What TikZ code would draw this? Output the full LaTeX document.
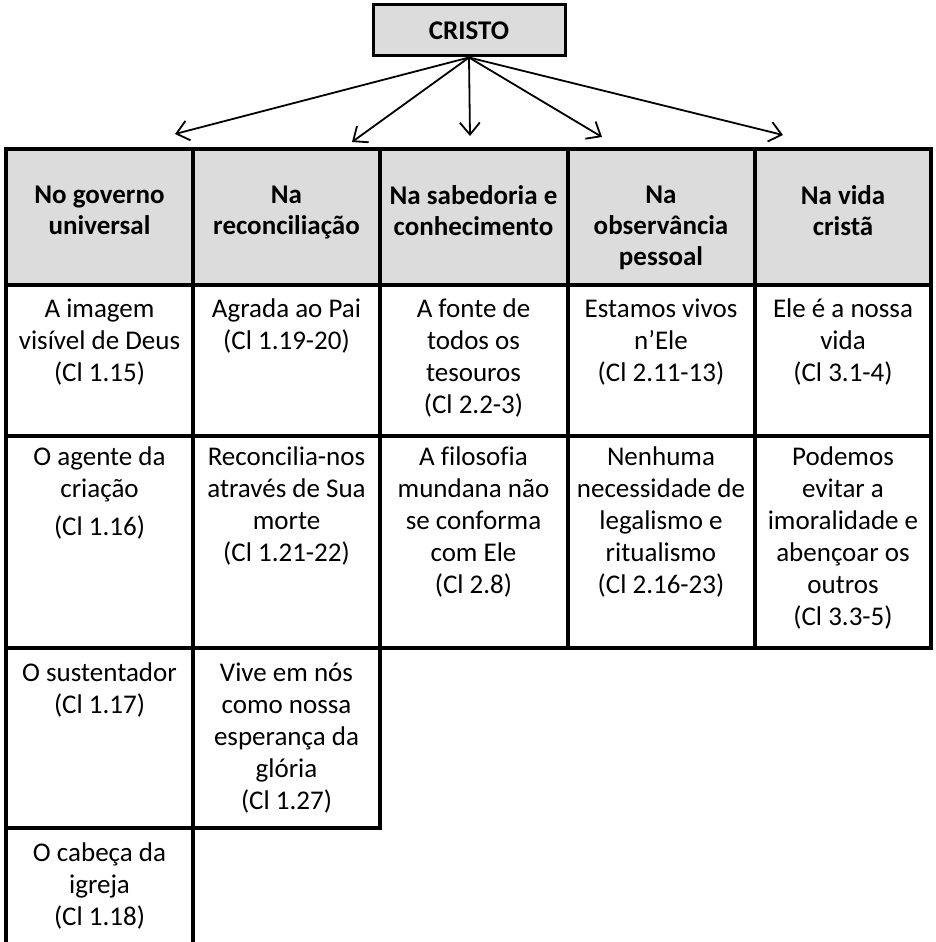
\documentclass[tikz,border=0pt]{standalone}
\usepackage{fontspec}
\setmainfont{Carlito}[Ligatures=CommonOff]
\usetikzlibrary{arrows.meta}
\definecolor{hdrgray}{RGB}{220,220,220}
\begin{document}
\begin{tikzpicture}[x=1pt,y=-1pt,
  grid/.style={line width=4pt, line cap=rect},
  hdr/.style={font=\bfseries\fontsize{27}{31}\selectfont, align=center, anchor=north, inner sep=0pt, execute at begin node=\strut},
  cell/.style={font=\fontsize{27}{32}\selectfont, align=center, anchor=north, inner sep=0pt, execute at begin node=\strut},
  arr/.style={line width=1.8pt, -{Straight Barb[length=12pt,width=20pt,line width=1.8pt]}},
]
\useasboundingbox (0,0) rectangle (935,942);
% header background
\fill[hdrgray] (6,149) rectangle (931,285);
% top box
\node[draw, line width=3pt, fill=hdrgray, minimum width=192pt, minimum height=51pt, inner sep=0pt,
      font=\bfseries\fontsize{27}{31}\selectfont] (cristo) at (469,30.5) {CRISTO};
% arrow tips
\coordinate (t1) at (175,134);
\coordinate (t2) at (352,142);
\coordinate (t3) at (470,136);
\coordinate (t4) at (602,137);
\coordinate (t5) at (783,135);
\foreach \t in {t1,t2,t3,t4,t5} \draw[arr] (cristo.south) -- (\t);
% grid
\draw[grid] (6,149) -- (931,149);
\draw[grid] (6,285) -- (931,285);
\draw[grid] (6,435.5) -- (931,435.5);
\draw[grid] (6,648) -- (931,648);
\draw[grid] (6,828) -- (380,828);
\draw[grid] (6,149) -- (6,944);
\draw[grid] (193,149) -- (193,944);
\draw[grid] (380,149) -- (380,828);
\draw[grid] (567.5,149) -- (567.5,648);
\draw[grid] (755,149) -- (755,648);
\draw[grid] (931,149) -- (931,648);
% headers
\node[hdr] (h1) at (99.5,185.3) {No governo\\universal};
\node[hdr] (h2) at (286.5,185.3) {Na\\reconciliação};
\node[hdr] (h3) at (473.5,185.3) {Na sabedoria e\\conhecimento};
\node[hdr] (h4) at (661,185.3) {Na\\observância\\pessoal};
\node[hdr] (h5) at (843,185.3) {Na vida\\cristã};
% row 1
\node[cell] (a1) at (99.5,298.6) {A imagem\\visível de Deus\\(Cl 1.15)};
\node[cell] (a2) at (286.5,298.6) {Agrada ao Pai\\(Cl 1.19-20)};
\node[cell] (a3) at (473.5,298.6) {A fonte de\\todos os\\tesouros\\(Cl 2.2-3)};
\node[cell] (a4) at (661,298.6) {Estamos vivos\\n’Ele\\(Cl 2.11-13)};
\node[cell] (a5) at (843,298.6) {Ele é a nossa\\vida\\(Cl 3.1-4)};
% row 2
\node[cell] (b1) at (99.5,446.6) {O agente da\\criação\\[6pt](Cl 1.16)};
\node[cell] (b2) at (286.5,446.6) {Reconcilia-nos\\através de Sua\\morte\\(Cl 1.21-22)};
\node[cell] (b3) at (473.5,446.6) {A filosofia\\mundana não\\se conforma\\com Ele\\(Cl 2.8)};
\node[cell] (b4) at (661,446.6) {Nenhuma\\necessidade de\\legalismo e\\ritualismo\\(Cl 2.16-23)};
\node[cell] (b5) at (843,446.6) {Podemos\\evitar a\\imoralidade e\\abençoar os\\outros\\(Cl 3.3-5)};
% row 3
\node[cell] (c1) at (99.5,662.6) {O sustentador\\(Cl 1.17)};
\node[cell] (c2) at (286.5,662.6) {Vive em nós\\como nossa\\esperança da\\glória\\(Cl 1.27)};
% row 4
\node[cell] (d1) at (99.5,842.6) {O cabeça da\\igreja\\(Cl 1.18)};
\end{tikzpicture}
\end{document}
